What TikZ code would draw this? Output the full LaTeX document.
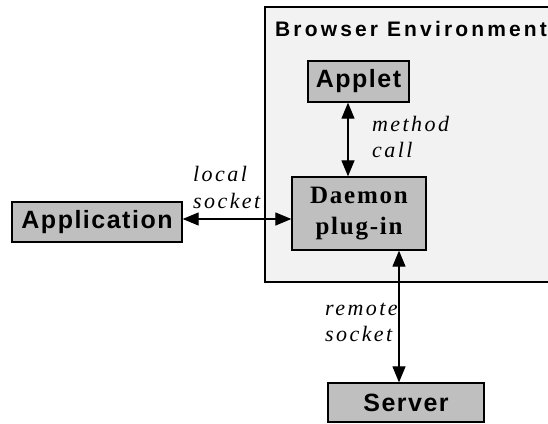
\documentclass[tikz,border=0pt]{standalone}
\usepackage{fontspec}
\setmainfont{Liberation Serif}
\newfontfamily\boxsans[LetterSpace=6]{Liberation Sans}
\newfontfamily\titlesans[LetterSpace=15]{Liberation Sans}
\newfontfamily\boxserif[LetterSpace=7]{Liberation Serif}
\newfontfamily\notefont[LetterSpace=11]{Liberation Serif}
\usetikzlibrary{arrows.meta}
\definecolor{boxgray}{gray}{0.75}
\definecolor{envgray}{gray}{0.95}

\begin{document}
\begin{tikzpicture}[x=1pt,y=-1pt,
    box/.style={draw, line width=1.3pt, fill=boxgray, inner sep=0pt,
      font=\boxsans\bfseries\fontsize{25}{28}\selectfont},
    link/.style={line width=1.2pt,
      {Triangle[length=16pt,width=13pt]}-{Triangle[length=16pt,width=13pt]}},
    note/.style={align=left, inner sep=0pt,
      font=\notefont\itshape\fontsize{22}{26.7}\selectfont}]
        \clip (0,0) rectangle (548,423);
        \draw[line width=1.3pt, fill=envgray] (265,7) rectangle (560,282);
        \node[anchor=base west, inner sep=0pt, font=\titlesans\bfseries\fontsize{21}{24}\selectfont] (envtitle) at (275,36.7) {Browser Environment};

        \node[box, minimum width=101pt, minimum height=41pt] (applet) at (358.5,81.5) {Applet};
        \node[box, align=center, minimum width=134pt, minimum height=73pt,
          font=\boxserif\bfseries\fontsize{25}{31}\selectfont] (daemon) at (359,213.5) {Daemon\\plug-in};
        \node[box, minimum width=170pt, minimum height=40pt] (app) at (97,222) {Application};
        \node[box, minimum width=156pt, minimum height=39pt] (server) at (406,402.5) {Server};

        \draw[link] ([xshift=-10.5pt]applet.south) -- ([xshift=-11pt]daemon.north);
        \draw[link] ([yshift=3pt]app.east) -- ([yshift=-5.5pt]daemon.west);
        \draw[link] ([xshift=40pt]daemon.south) -- ([xshift=-7pt]server.north);

        \node[note, anchor=base west] (methodcall) at (372,157.7) {method\\call};
        \node[note, anchor=base west] (localsock) at (193,208.4) {local\\socket};
        \node[note, anchor=base west] (remotesock) at (325,341.7) {remote\\socket};
      \end{tikzpicture}
\end{document}
